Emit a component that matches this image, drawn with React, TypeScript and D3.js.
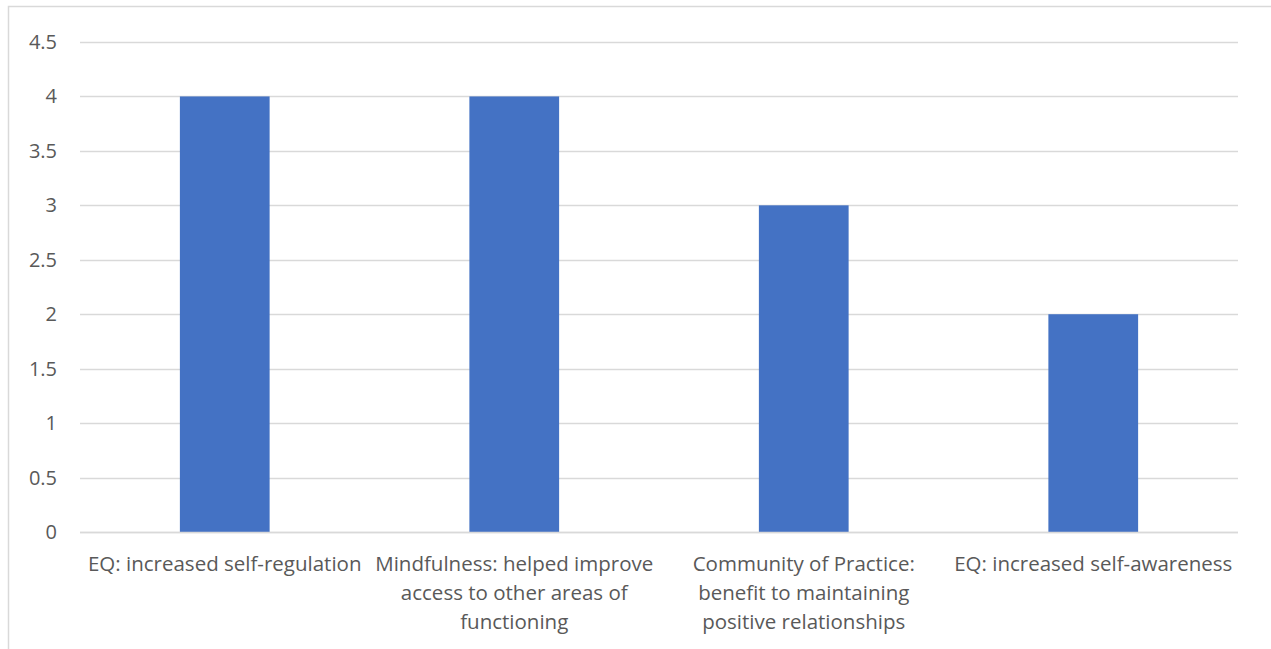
import React, { useEffect, useRef } from "react";
import * as d3 from "d3";

const categories = [
  "EQ: increased self-regulation",
  "Mindfulness: helped improve access to other areas of functioning",
  "Community of Practice: benefit to maintaining positive relationships",
  "EQ: increased self-awareness",
];
const values = [4, 4, 3, 2];
const yTicks = [0, 0.5, 1, 1.5, 2, 2.5, 3, 3.5, 4, 4.5];

const labelLines = [
  ["EQ: increased self-regulation"],
  ["Mindfulness: helped improve", "access to other areas of", "functioning"],
  ["Community of Practice:", "benefit to maintaining", "positive relationships"],
  ["EQ: increased self-awareness"],
];

const App = () => {
  const ref = useRef<SVGSVGElement>(null);

  useEffect(() => {
    const width = 1271;
    const height = 649;
    const marginTop = 42;
    const marginLeft = 80;
    const marginRight = 33;
    const bottomY = 532;
    const font = "'Open Sans', sans-serif";
    const textColor = "#595959";

    const svg = d3.select(ref.current);
    svg.selectAll("*").remove();

    // chart border (only top and left visible in the crop)
    svg
      .append("rect")
      .attr("x", 8.5)
      .attr("y", 6.5)
      .attr("width", width + 20)
      .attr("height", height + 20)
      .attr("fill", "white")
      .attr("stroke", "#d9d9d9")
      .attr("stroke-width", 1.5);

    const x = d3
      .scaleBand()
      .domain(categories)
      .range([marginLeft, width - marginRight])
      .paddingInner(0.69)
      .paddingOuter(0.345);

    const y = d3.scaleLinear().domain([0, 4.5]).range([bottomY, marginTop]);

    // gridlines
    svg
      .append("g")
      .selectAll("line")
      .data(yTicks)
      .join("line")
      .attr("x1", marginLeft)
      .attr("x2", width - marginRight)
      .attr("y1", (d) => Math.round(y(d)) + 0.5)
      .attr("y2", (d) => Math.round(y(d)) + 0.5)
      .attr("stroke", "#d9d9d9")
      .attr("stroke-width", 1.5);

    // y tick labels
    svg
      .append("g")
      .selectAll("text")
      .data(yTicks)
      .join("text")
      .attr("x", 57)
      .attr("y", (d) => y(d))
      .attr("dy", "0.35em")
      .attr("text-anchor", "end")
      .attr("font-family", font)
      .attr("font-size", 20)
      .attr("fill", textColor)
      .text((d) => String(d));

    // bars
    svg
      .append("g")
      .attr("fill", "#4472c4")
      .selectAll("rect")
      .data(values)
      .join("rect")
      .attr("x", (d, i) => x(categories[i])!)
      .attr("width", x.bandwidth())
      .attr("y", (d) => y(d))
      .attr("height", (d) => y(0) - y(d));

    // baseline
    svg
      .append("line")
      .attr("x1", marginLeft)
      .attr("x2", width - marginRight)
      .attr("y1", bottomY + 0.5)
      .attr("y2", bottomY + 0.5)
      .attr("stroke", "#d9d9d9")
      .attr("stroke-width", 1.5);

    // category labels, wrapped like the original
    const labels = svg
      .append("g")
      .selectAll("text")
      .data(categories)
      .join("text")
      .attr("x", (d) => x(d)! + x.bandwidth() / 2)
      .attr("text-anchor", "middle")
      .attr("font-family", font)
      .attr("font-size", 20.5)
      .attr("fill", textColor);

    labels.each(function (d, i) {
      d3.select(this)
        .selectAll("tspan")
        .data(labelLines[i])
        .join("tspan")
        .attr("x", x(d)! + x.bandwidth() / 2)
        .attr("y", (_, j) => 571 + j * 29)
        .text((t) => t);
    });
  }, []);

  return (
    <svg
      ref={ref}
      width={1271}
      height={649}
      style={{ position: "absolute", left: 0, top: 0 }}
    />
  );
};

export default App;
